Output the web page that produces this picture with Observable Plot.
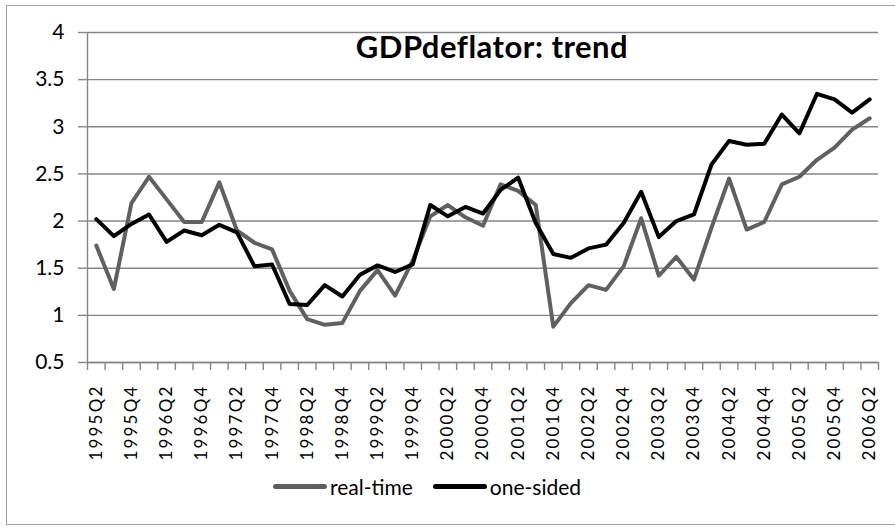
<!DOCTYPE html>
<html>
<head>
<meta charset="utf-8">
<script src="https://cdn.jsdelivr.net/npm/d3@7"></script>
<script src="https://cdn.jsdelivr.net/npm/@observablehq/plot@0.6"></script>
<style>
  html, body { margin: 0; padding: 0; background: #fff; }
  #wrap { position: relative; width: 895px; height: 529px; overflow: hidden; font-family: Lato, "Open Sans", sans-serif; }
  #border { position: absolute; left: 6px; top: 5px; width: 920px; height: 520px; border: 1px solid #a0a0a0; box-sizing: border-box; }
  #chart { position: absolute; left: 0; top: 0; }
  #legend { position: absolute; left: 273px; top: 474px; display: flex; align-items: center; font-size: 21px; color: #000; }
  .sw { display: inline-block; width: 54px; height: 5px; border-radius: 3px; }
</style>
</head>
<body>
<div id="wrap">
  <div id="border"></div>
  <div id="chart"></div>
  <div id="legend"></div>
</div>
<script>
const quarters = [
  "1995Q2","1995Q3","1995Q4","1996Q1","1996Q2","1996Q3","1996Q4","1997Q1","1997Q2","1997Q3","1997Q4",
  "1998Q1","1998Q2","1998Q3","1998Q4","1999Q1","1999Q2","1999Q3","1999Q4","2000Q1","2000Q2","2000Q3","2000Q4",
  "2001Q1","2001Q2","2001Q3","2001Q4","2002Q1","2002Q2","2002Q3","2002Q4","2003Q1","2003Q2","2003Q3","2003Q4",
  "2004Q1","2004Q2","2004Q3","2004Q4","2005Q1","2005Q2","2005Q3","2005Q4","2006Q1","2006Q2"
];
const realTime = [
  1.74, 1.28, 2.19, 2.47, 2.23, 1.99, 1.99, 2.41, 1.90, 1.77, 1.70,
  1.26, 0.96, 0.90, 0.92, 1.26, 1.48, 1.21, 1.58, 2.05, 2.17, 2.04, 1.95,
  2.39, 2.32, 2.17, 0.88, 1.13, 1.32, 1.27, 1.52, 2.03, 1.42, 1.62, 1.38,
  1.93, 2.45, 1.91, 1.99, 2.39, 2.47, 2.65, 2.78, 2.97, 3.09
];
const oneSided = [
  2.02, 1.84, 1.97, 2.07, 1.78, 1.90, 1.85, 1.96, 1.88, 1.52, 1.54,
  1.12, 1.11, 1.32, 1.20, 1.43, 1.53, 1.46, 1.54, 2.17, 2.05, 2.15, 2.08,
  2.33, 2.46, 1.98, 1.65, 1.61, 1.71, 1.75, 1.98, 2.31, 1.83, 2.00, 2.07,
  2.60, 2.85, 2.81, 2.82, 3.13, 2.93, 3.35, 3.29, 3.15, 3.29
];
const yTicks = [0.5, 1, 1.5, 2, 2.5, 3, 3.5, 4];
const seriesNames = ["real-time", "one-sided"];
const seriesColors = ["#606060", "#000000"];
const title = "GDPdeflator: trend";

const idx = quarters.map((q, i) => i);
const labelIdx = idx.filter(i => i % 2 === 0);
const boundaries = quarters.map((q, i) => i - 0.5).concat([quarters.length - 0.5]);
const gridColor = "#868686";

const plot = Plot.plot({
  width: 895,
  height: 460,
  marginLeft: 87,
  marginRight: 17,
  marginTop: 32,
  marginBottom: 98,
  style: { fontFamily: "Lato, 'Open Sans', sans-serif", background: "transparent", color: "#000" },
  x: { type: "linear", domain: [-0.5, quarters.length - 0.5], axis: null },
  y: { domain: [0.5, 4], axis: null },
  marks: [
    Plot.gridY(yTicks, { stroke: gridColor, strokeOpacity: 1, strokeWidth: 1.4 }),
    Plot.axisY(yTicks, { tickSize: 9, tickPadding: 14, stroke: gridColor, strokeWidth: 1.4, fontSize: 21, fill: "#000", tickFormat: d => String(d) }),
    Plot.ruleX([-0.5], { stroke: gridColor, strokeWidth: 1.4 }),
    Plot.ruleY([0.5], { stroke: gridColor, strokeWidth: 1.4 }),
    Plot.axisX(boundaries, { tickSize: 8, stroke: gridColor, strokeWidth: 1.4, tickFormat: () => "" }),
    Plot.text(labelIdx, {
      x: d => d, frameAnchor: "bottom", dy: 22, rotate: -90, textAnchor: "end", lineAnchor: "middle",
      text: d => quarters[d], fontSize: 17, fill: "#000"
    }),
    Plot.text([title], { frameAnchor: "top", dx: 9, dy: 16, lineAnchor: "middle", fontSize: 31, fontWeight: "bold", fill: "#000" }),
    Plot.line(realTime, { x: (d, i) => i, y: d => d, stroke: seriesColors[0], strokeWidth: 4, strokeLinejoin: "round", strokeLinecap: "round" }),
    Plot.line(oneSided, { x: (d, i) => i, y: d => d, stroke: seriesColors[1], strokeWidth: 4, strokeLinejoin: "round", strokeLinecap: "round" })
  ]
});
plot.querySelectorAll("text").forEach(t => {
  if (t.textContent === title) t.setAttribute("letter-spacing", "0.5");
  if (quarters.includes(t.textContent)) t.setAttribute("letter-spacing", "2.2");
});
document.getElementById("chart").appendChild(plot);

const legend = document.getElementById("legend");
seriesNames.forEach((name, k) => {
  const sw = document.createElement("span");
  sw.className = "sw";
  sw.style.background = seriesColors[k];
  sw.style.marginLeft = k === 0 ? "0px" : "20px";
  sw.style.marginRight = "3px";
  legend.appendChild(sw);
  const lab = document.createElement("span");
  lab.textContent = name;
  legend.appendChild(lab);
});
</script>
</body>
</html>
